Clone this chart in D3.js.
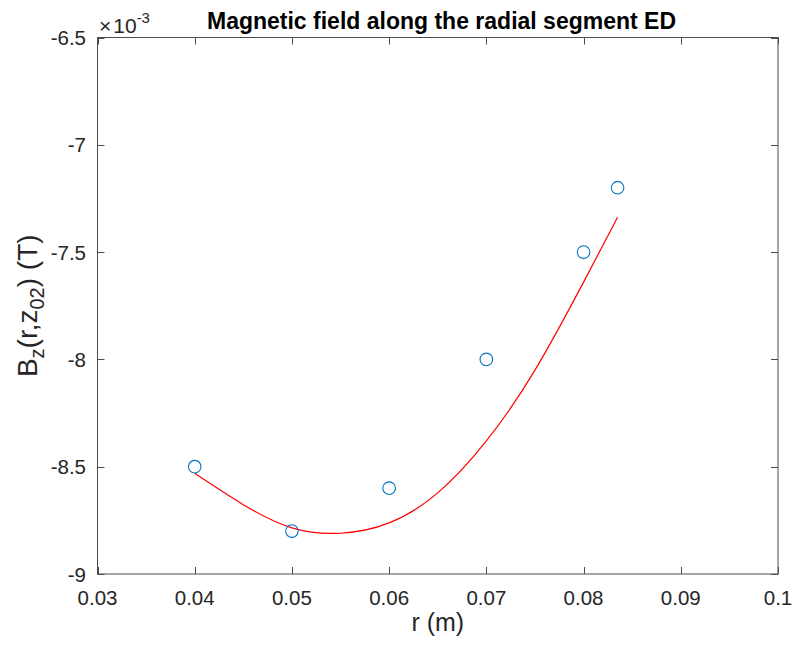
<!DOCTYPE html>
<html>
<head>
<meta charset="utf-8">
<script src="https://cdn.jsdelivr.net/npm/d3@7"></script>
<style>
  html, body { margin: 0; padding: 0; background: #fff; }
  svg { display: block; font-family: "Liberation Sans", Arial, Helvetica, sans-serif; }
</style>
</head>
<body>
<svg id="chart" width="796" height="646"></svg>
<script>
// Measured field samples along ED (r in m, Bz in T)
const rMeas = [0.04, 0.05, 0.06, 0.07, 0.08, 0.0835];
const bzMeas = [-8.5e-3, -8.8e-3, -8.6e-3, -8.0e-3, -7.5e-3, -7.2e-3];

// Fitted curve through the measurements (r in m, Bz in T)
const rFit = [0.040, 0.045, 0.050, 0.055, 0.060, 0.065, 0.070, 0.075, 0.080, 0.0835];
const bzFit = [-8.531e-3, -8.677e-3, -8.785e-3, -8.810e-3, -8.762e-3, -8.622e-3,
               -8.380e-3, -8.050e-3, -7.640e-3, -7.338e-3];

// Axis ticks
const xTicks = [0.03, 0.04, 0.05, 0.06, 0.07, 0.08, 0.09, 0.1];
const yTicks = [-9e-3, -8.5e-3, -8e-3, -7.5e-3, -7e-3, -6.5e-3];
const yExponent = -3;

const svg = d3.select("#chart");
const L = 97.5, R = 778, T = 37.5, B = 574;

const x = d3.scaleLinear().domain([0.03, 0.1]).range([L, R]);
const y = d3.scaleLinear().domain([-9e-3, -6.5e-3]).range([B, T]);

const axisColor = "#4d4d4d";
const textColor = "#262626";
const tickLen = 7;
const tickFont = 20.5;
const labelFont = 25;
const g = svg.append("g");

// plain hyphen for negative numbers
const fmt = v => d3.format("~g")(v).replace("\u2212", "-");

// Box
g.append("rect")
  .attr("x", L).attr("y", T)
  .attr("width", R - L).attr("height", B - T)
  .attr("fill", "none").attr("stroke", axisColor).attr("stroke-width", 1);

// Inward ticks on all four sides
xTicks.forEach(t => {
  const px = Math.round(x(t)) + 0.5;
  g.append("line").attr("x1", px).attr("x2", px).attr("y1", B).attr("y2", B - tickLen)
    .attr("stroke", axisColor);
  g.append("line").attr("x1", px).attr("x2", px).attr("y1", T).attr("y2", T + tickLen)
    .attr("stroke", axisColor);
  g.append("text").attr("x", x(t)).attr("y", 605)
    .attr("text-anchor", "middle").attr("font-size", tickFont).attr("fill", textColor)
    .text(fmt(t));
});

const scaleFactor = Math.pow(10, yExponent);
yTicks.forEach(t => {
  const py = Math.round(y(t)) + 0.5;
  g.append("line").attr("x1", L).attr("x2", L + tickLen).attr("y1", py).attr("y2", py)
    .attr("stroke", axisColor);
  g.append("line").attr("x1", R).attr("x2", R - tickLen).attr("y1", py).attr("y2", py)
    .attr("stroke", axisColor);
  g.append("text").attr("x", 86).attr("y", y(t) + 7.5)
    .attr("text-anchor", "end").attr("font-size", tickFont).attr("fill", textColor)
    .text(fmt(+(t / scaleFactor).toFixed(6)));
});

// Exponent marker above the y axis
const expText = g.append("text").attr("x", 99).attr("y", 33)
  .attr("font-size", 21).attr("fill", textColor);
expText.append("tspan").text("\u00d7");
expText.append("tspan").attr("dx", 2).text("10");
expText.append("tspan").attr("dy", -10).attr("font-size", 15).text(String(yExponent));

// Fitted curve
const line = d3.line()
  .x((d, i) => x(rFit[i]))
  .y((d, i) => y(bzFit[i]))
  .curve(d3.curveNatural);
g.append("path")
  .datum(rFit)
  .attr("d", line)
  .attr("fill", "none")
  .attr("stroke", "#ff0000")
  .attr("stroke-width", 1.2);

// Measured points
g.selectAll("circle.meas")
  .data(rMeas)
  .enter().append("circle")
  .attr("class", "meas")
  .attr("cx", (d) => x(d))
  .attr("cy", (d, i) => y(bzMeas[i]))
  .attr("r", 6.3)
  .attr("fill", "none")
  .attr("stroke", "#0072bd")
  .attr("stroke-width", 1.1);

// Title
g.append("text").attr("x", 441.5).attr("y", 29)
  .attr("text-anchor", "middle").attr("font-size", 23).attr("font-weight", "bold")
  .attr("fill", "#000")
  .text("Magnetic field along the radial segment ED");

// X axis label
g.append("text").attr("x", (L + R) / 2).attr("y", 631)
  .attr("text-anchor", "middle").attr("font-size", labelFont).attr("fill", textColor)
  .text("r (m)");

// Y axis label with subscripts
const yFont = 28;
const yl = g.append("text")
  .attr("transform", `translate(37, ${(T + B) / 2}) rotate(-90)`)
  .attr("text-anchor", "middle").attr("font-size", yFont).attr("fill", textColor);
yl.append("tspan").text("B");
yl.append("tspan").attr("dy", 7).attr("font-size", 20).text("z");
yl.append("tspan").attr("dy", -7).text("(r,z");
yl.append("tspan").attr("dy", 7).attr("font-size", 20).text("02");
yl.append("tspan").attr("dy", -7).text(") (T)");
</script>
</body>
</html>
